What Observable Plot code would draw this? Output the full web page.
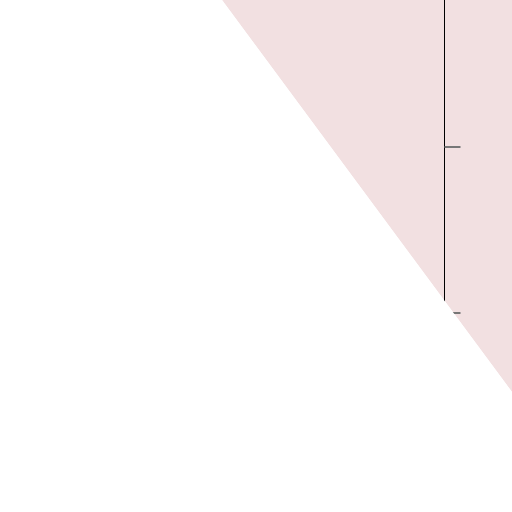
<!DOCTYPE html>
<html>
<head>
<meta charset="utf-8">
<script src="https://cdn.jsdelivr.net/npm/d3@7"></script>
<script src="https://cdn.jsdelivr.net/npm/@observablehq/plot@0.6"></script>
<style>
html,body{margin:0;padding:0;background:#fff;}
</style>
</head>
<body>
<div id="chart"></div>
<script>
// Boundary of the shaded band (diagonal edge)
const edgeX = [0, 222, 512];
const edgeY = [0, 0, 392];
// Vertical axis rule position
const ruleXs = [444];
// Tick marks on the right of the rule
const tickYs = [146.5, 312.5];
const tickStart = 444.5;
const tickEnd = 460.5;

const edge = edgeX.map((x, i) => ({x, y: edgeY[i]}));
const band = edge.filter(d => d.x >= 222);

const chart = Plot.plot({
  width: 512,
  height: 512,
  margin: 0,
  x: {domain: [0, 512], axis: null},
  y: {domain: [512, 0], axis: null},
  marks: [
    Plot.area(band, {x1: "x", y1: () => 0, y2: "y", fill: "#f2e0e1"}),
    Plot.ruleX(ruleXs, {x: d => d, stroke: "#000", strokeWidth: 1}),
    Plot.ruleY(tickYs, {y: d => d, x1: tickStart, x2: tickEnd, stroke: "#777", strokeWidth: 2}),
    Plot.area(edge, {x1: "x", y1: "y", y2: () => 512, fill: "#fff"})
  ]
});
document.getElementById("chart").appendChild(chart);
</script>
</body>
</html>
